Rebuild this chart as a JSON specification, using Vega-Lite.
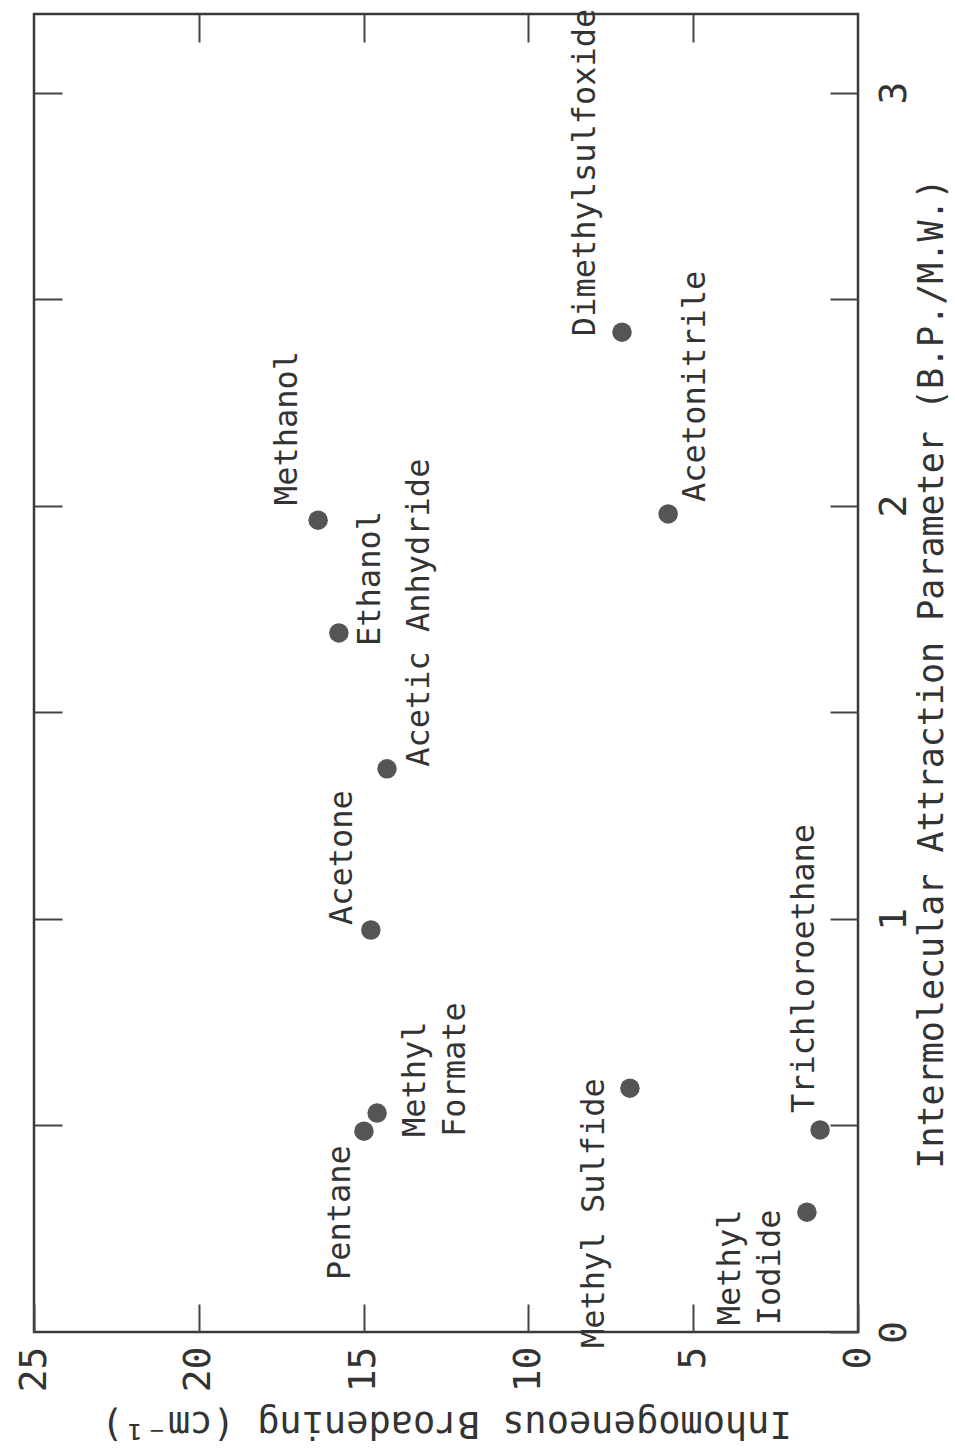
{
  "$schema": "https://vega.github.io/schema/vega-lite/v6.json",
  "width": 824,
  "height": 1318,
  "autosize": {"type": "none"},
  "padding": {"left": 34, "top": 14, "right": 97, "bottom": 124},
  "background": "white",
  "config": {
    "view": {"stroke": "#3a3a3a", "strokeWidth": 2.5},
    "font": "DejaVu Sans Mono",
    "axis": {"grid": false, "domain": false, "tickColor": "#444", "tickWidth": 2, "labelColor": "#333", "titleColor": "#333", "labelFont": "DejaVu Sans Mono", "titleFont": "DejaVu Sans Mono", "titleFontWeight": "normal"}
  },
  "data": {
    "values": [
      {"compound": "Methanol", "label": "Methanol", "B": 16.38, "P": 1.965},
      {"compound": "Ethanol", "label": "Ethanol", "B": 15.75, "P": 1.692},
      {"compound": "Acetic Anhydride", "label": "Acetic Anhydride", "B": 14.29, "P": 1.363},
      {"compound": "Acetone", "label": "Acetone", "B": 14.78, "P": 0.973},
      {"compound": "Pentane", "label": "Pentane", "B": 14.99, "P": 0.486},
      {"compound": "Methyl Formate", "label": "Methyl\nFormate", "B": 14.59, "P": 0.53},
      {"compound": "Methyl Sulfide", "label": "Methyl Sulfide", "B": 6.92, "P": 0.59},
      {"compound": "Trichloroethane", "label": "Trichloroethane", "B": 1.15, "P": 0.489},
      {"compound": "Methyl Iodide", "label": "Methyl\nIodide", "B": 1.55, "P": 0.29},
      {"compound": "Acetonitrile", "label": "Acetonitrile", "B": 5.76, "P": 1.98},
      {"compound": "Dimethylsulfoxide", "label": "Dimethylsulfoxide", "B": 7.16, "P": 2.42}
    ]
  },
  "resolve": {"axis": {"x": "independent", "y": "independent"}},
  "layer": [
    {
      "mark": {"type": "point", "filled": true, "shape": "circle", "size": 380, "color": "#555", "opacity": 1},
      "encoding": {
        "x": {"field": "B", "type": "quantitative",
          "scale": {"domain": [0, 25], "reverse": true, "nice": false, "zero": false},
          "axis": {"orient": "bottom", "values": [0, 5, 10, 15, 20, 25], "tickSize": -28, "labelPadding": 42, "labelAngle": 270, "labelAlign": "right", "labelBaseline": "middle", "labelFontSize": 38, "title": "Inhomogeneous Broadening (cm⁻¹)", "titleAngle": 180, "titleBaseline": "bottom", "titleFontSize": 37, "titlePadding": 12}},
        "y": {"field": "P", "type": "quantitative",
          "scale": {"domain": [0, 3.19], "nice": false, "zero": false},
          "axis": {"orient": "right", "values": [0, 0.5, 1, 1.5, 2, 2.5, 3], "labelExpr": "datum.value % 1 === 0 ? format(datum.value, 'd') : ''", "tickSize": -28, "labelPadding": 45, "labelAngle": 270, "labelAlign": "center", "labelBaseline": "top", "labelFontSize": 38, "title": "Intermolecular Attraction Parameter (B.P./M.W.)", "titleAngle": 270, "titleBaseline": "top", "titleFontSize": 35, "titlePadding": 1}}
      }
    },
    {
      "transform": [{"filter": "datum.compound === 'Methanol'"}],
      "mark": {"type": "text", "angle": 270, "fontSize": 32, "color": "#333", "align": "left", "baseline": "middle", "dx": 15, "dy": -31},
      "encoding": {
        "x": {"field": "B", "type": "quantitative", "axis": {"orient": "top", "values": [5, 10, 15, 20], "tickSize": -28, "labels": false, "title": null}},
        "y": {"field": "P", "type": "quantitative", "axis": {"orient": "left", "values": [0.5, 1, 1.5, 2, 2.5, 3], "tickSize": -28, "labels": false, "title": null}},
        "text": {"field": "label"}
      }
    },
    {
      "transform": [{"filter": "datum.compound === 'Ethanol'"}],
      "mark": {"type": "text", "angle": 270, "fontSize": 32, "color": "#333", "align": "left", "baseline": "middle", "dx": -13, "dy": 31},
      "encoding": {"x": {"field": "B", "type": "quantitative", "axis": null}, "y": {"field": "P", "type": "quantitative", "axis": null}, "text": {"field": "label"}}
    },
    {
      "transform": [{"filter": "datum.compound === 'Acetic Anhydride'"}],
      "mark": {"type": "text", "angle": 270, "fontSize": 32, "color": "#333", "align": "left", "baseline": "middle", "dx": 2, "dy": 32},
      "encoding": {"x": {"field": "B", "type": "quantitative", "axis": null}, "y": {"field": "P", "type": "quantitative", "axis": null}, "text": {"field": "label"}}
    },
    {
      "transform": [{"filter": "datum.compound === 'Acetone'"}],
      "mark": {"type": "text", "angle": 270, "fontSize": 32, "color": "#333", "align": "left", "baseline": "middle", "dx": 5, "dy": -29},
      "encoding": {"x": {"field": "B", "type": "quantitative", "axis": null}, "y": {"field": "P", "type": "quantitative", "axis": null}, "text": {"field": "label"}}
    },
    {
      "transform": [{"filter": "datum.compound === 'Pentane'"}],
      "mark": {"type": "text", "angle": 270, "fontSize": 32, "color": "#333", "align": "right", "baseline": "middle", "dx": -14, "dy": -24},
      "encoding": {"x": {"field": "B", "type": "quantitative", "axis": null}, "y": {"field": "P", "type": "quantitative", "axis": null}, "text": {"field": "label"}}
    },
    {
      "transform": [{"filter": "datum.compound === 'Methyl Formate'"}],
      "mark": {"type": "text", "angle": 270, "fontSize": 32, "color": "#333", "align": "left", "baseline": "middle", "lineBreak": "\n", "lineHeight": 40, "dx": -24, "dy": 38},
      "encoding": {"x": {"field": "B", "type": "quantitative", "axis": null}, "y": {"field": "P", "type": "quantitative", "axis": null}, "text": {"field": "label"}}
    },
    {
      "transform": [{"filter": "datum.compound === 'Methyl Sulfide'"}],
      "mark": {"type": "text", "angle": 270, "fontSize": 32, "color": "#333", "align": "right", "baseline": "middle", "dx": 10, "dy": -36},
      "encoding": {"x": {"field": "B", "type": "quantitative", "axis": null}, "y": {"field": "P", "type": "quantitative", "axis": null}, "text": {"field": "label"}}
    },
    {
      "transform": [{"filter": "datum.compound === 'Trichloroethane'"}],
      "mark": {"type": "text", "angle": 270, "fontSize": 32, "color": "#333", "align": "left", "baseline": "middle", "dx": 17, "dy": -16},
      "encoding": {"x": {"field": "B", "type": "quantitative", "axis": null}, "y": {"field": "P", "type": "quantitative", "axis": null}, "text": {"field": "label"}}
    },
    {
      "transform": [{"filter": "datum.compound === 'Methyl Iodide'"}],
      "mark": {"type": "text", "angle": 270, "fontSize": 32, "color": "#333", "align": "left", "baseline": "middle", "lineBreak": "\n", "lineHeight": 40, "dx": -113, "dy": -77},
      "encoding": {"x": {"field": "B", "type": "quantitative", "axis": null}, "y": {"field": "P", "type": "quantitative", "axis": null}, "text": {"field": "label"}}
    },
    {
      "transform": [{"filter": "datum.compound === 'Acetonitrile'"}],
      "mark": {"type": "text", "angle": 270, "fontSize": 32, "color": "#333", "align": "left", "baseline": "middle", "dx": 12, "dy": 27},
      "encoding": {"x": {"field": "B", "type": "quantitative", "axis": null}, "y": {"field": "P", "type": "quantitative", "axis": null}, "text": {"field": "label"}}
    },
    {
      "transform": [{"filter": "datum.compound === 'Dimethylsulfoxide'"}],
      "mark": {"type": "text", "angle": 270, "fontSize": 32, "color": "#333", "align": "left", "baseline": "middle", "dx": -4, "dy": -37},
      "encoding": {"x": {"field": "B", "type": "quantitative", "axis": null}, "y": {"field": "P", "type": "quantitative", "axis": null}, "text": {"field": "label"}}
    }
  ]
}
